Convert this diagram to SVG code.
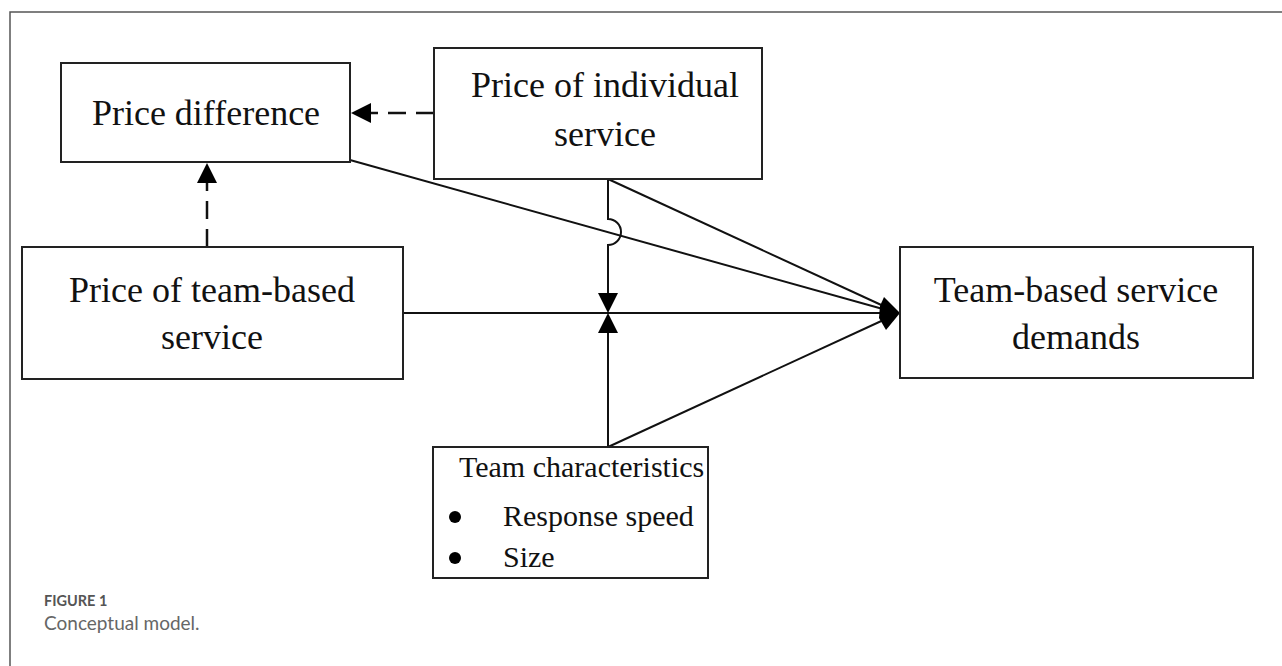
<svg xmlns="http://www.w3.org/2000/svg" width="1282" height="666" viewBox="0 0 1282 666">
<style>
.box{fill:#fff;stroke:#222;stroke-width:2}
.t{font-family:"Liberation Serif","Times New Roman",serif;font-size:36px;fill:#111}
.s{font-size:30px}
.ln{stroke:#111;stroke-width:2;fill:none}
.dash{stroke:#111;stroke-width:2.5;fill:none;stroke-dasharray:18 10}
.ah{fill:#000}
.cap1{font-family:Lato,"Open Sans",sans-serif;font-size:14.5px;font-weight:bold;fill:#555}
.cap2{font-family:Lato,"Open Sans",sans-serif;font-size:19px;fill:#666}
</style>
<rect width="1282" height="666" fill="#fff"/>
<path d="M10 666 V12 H1282" stroke="#555" stroke-width="1.5" fill="none"/>
<g id="connectors">
  <line class="dash" x1="434" y1="113" x2="370" y2="113"/>
  <polygon class="ah" points="351,113 371,103 371,123"/>
  <line class="dash" x1="207" y1="247" x2="207" y2="182"/>
  <polygon class="ah" points="207,163 197,183 217,183"/>
  <line class="ln" x1="403" y1="313" x2="885" y2="313"/>
  <line class="ln" x1="350" y1="160" x2="890" y2="311"/>
  <line class="ln" x1="608" y1="179" x2="890" y2="309"/>
  <line class="ln" x1="608" y1="447" x2="890" y2="317"/>
  <path class="ln" d="M608 179 V219 A13 13 0 0 1 608 245 V295"/>
  <polygon class="ah" points="608,313 598,293 618,293"/>
  <line class="ln" x1="608" y1="447" x2="608" y2="331"/>
  <polygon class="ah" points="608,313 598,333 618,333"/>
  <polygon class="ah" points="884,297 900,313 886,330 879,318 880,306"/>
</g>
<g id="price-difference">
  <rect class="box" x="61" y="63" width="289" height="99"/>
  <text class="t" x="206" y="125" text-anchor="middle">Price difference</text>
</g>
<g id="price-individual">
  <rect class="box" x="434" y="48" width="328" height="131"/>
  <text class="t" x="605" y="97" text-anchor="middle">Price of individual</text>
  <text class="t" x="605" y="146" text-anchor="middle">service</text>
</g>
<g id="price-team">
  <rect class="box" x="22" y="247" width="381" height="132"/>
  <text class="t" x="212" y="302" text-anchor="middle">Price of team-based</text>
  <text class="t" x="212" y="349" text-anchor="middle">service</text>
</g>
<g id="demands">
  <rect class="box" x="900" y="247" width="353" height="131"/>
  <text class="t" x="1076" y="302" text-anchor="middle">Team-based service</text>
  <text class="t" x="1076" y="349" text-anchor="middle">demands</text>
</g>
<g id="team-characteristics">
  <rect class="box" x="433" y="447" width="275" height="131"/>
  <text class="t s" x="459" y="477">Team characteristics</text>
  <circle cx="455" cy="517" r="6" fill="#000"/>
  <text class="t s" x="503" y="526">Response speed</text>
  <circle cx="455" cy="558" r="6" fill="#000"/>
  <text class="t s" x="503" y="567">Size</text>
</g>
<text class="cap1" x="44" y="606">FIGURE 1</text>
<text class="cap2" x="44" y="630">Conceptual model.</text>
</svg>
